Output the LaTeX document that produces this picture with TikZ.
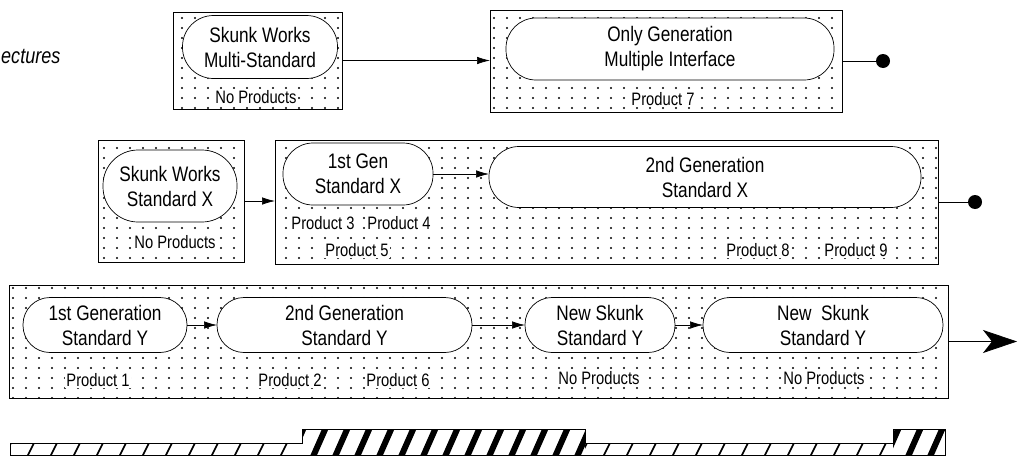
\documentclass[tikz,border=0pt]{standalone}
\usepackage{fontspec}
\setmainfont[FakeStretch=0.82]{Liberation Sans}
\usetikzlibrary{arrows.meta,patterns}
% sparse dot screen used as the background of every stage box
\pgfdeclarepatternformonly{sparsedots}{\pgfqpoint{-1.5pt}{-1.5pt}}{\pgfqpoint{1.5pt}{1.5pt}}{\pgfqpoint{13pt}{10pt}}{\pgfpathcircle{\pgfqpoint{0pt}{0pt}}{1.2pt}\pgfusepath{fill}}
\newcommand\pillfont{\fontsize{21}{25}\selectfont}
\newcommand\prodfont{\fontsize{18}{20}\selectfont}
\begin{document}
\begin{tikzpicture}[x=1pt,y=-1pt,
  stage/.style={draw, line width=0.8pt, pattern=sparsedots, inner sep=0pt, outer sep=0pt, anchor=north west},
  pill/.style={draw, line width=0.7pt, fill=white, rectangle, inner sep=0pt, outer sep=0pt, align=center, font=\pillfont},
  prod/.style={font=\prodfont, fill=white, inner sep=1.5pt},
  link/.style={line width=0.7pt, -{Latex[length=13pt,width=7.5pt]}},
  enddot/.style={circle, fill=black, minimum size=14pt, inner sep=0pt},
  plain/.style={line width=0.7pt}]
\useasboundingbox (0,0) rectangle (1018,458);

\node[font=\fontsize{22}{25}\selectfont\itshape, anchor=west, inner sep=0pt] (arch) at (1,56) {ectures};

% stage boxes
\node[stage, minimum width=169pt, minimum height=97pt]  (boxA) at (173,12) {};
\node[stage, minimum width=352pt, minimum height=102pt] (boxB) at (490,10) {};
\node[stage, minimum width=146pt, minimum height=122pt] (boxC) at (98,140) {};
\node[stage, minimum width=663pt, minimum height=124pt] (boxD) at (275,140) {};
\node[stage, minimum width=939pt, minimum height=113pt] (boxE) at (9,285) {};

% top row
\node[pill, minimum width=155pt, minimum height=63pt, rounded corners=31pt] (msA) at (260,47) {Skunk Works\\Multi-Standard};
\node[prod] (npA) at (256,97) {No Products};
\node[pill, minimum width=328pt, minimum height=62pt, rounded corners=30pt] (ogB) at (670,49) {Only Generation\\Multiple Interface};
\node[prod] (p7) at (663,99) {Product 7};
\node[enddot] (endB) at (883,61) {};
\draw[link] (boxA.east) -- (boxA.east -| boxB.west);
\draw[plain] (boxB.east) -- (endB);

% middle row
\node[pill, minimum width=134pt, minimum height=72pt, rounded corners=35pt] (swX) at (170,186) {Skunk Works\\Standard X};
\node[prod] (npC) at (175,242) {No Products};
\node[pill, minimum width=150pt, minimum height=62pt, rounded corners=30pt] (g1X) at (358,174) {1st Gen\\Standard X};
\node[prod] (p3) at (323,223) {Product 3};
\node[prod] (p4) at (399,223) {Product 4};
\node[prod] (p5) at (357,250) {Product 5};
\node[pill, minimum width=432pt, minimum height=61pt, rounded corners=30pt] (g2X) at (705,177) {2nd Generation\\Standard X};
\node[prod] (p8) at (758,250) {Product 8};
\node[prod] (p9) at (856,250) {Product 9};
\node[enddot] (endD) at (975,202) {};
\draw[link] (boxC.east) -- (boxC.east -| boxD.west);
\draw[link] (g1X.east) -- (g1X.east -| g2X.west);
\draw[plain] (boxD.east) -- (endD);

% bottom row
\node[pill, minimum width=164pt, minimum height=55pt, rounded corners=27pt] (g1Y) at (105,325) {1st Generation\\Standard Y};
\node[prod] (p1) at (98,380) {Product 1};
\node[pill, minimum width=255pt, minimum height=55pt, rounded corners=27pt] (g2Y) at (344.5,325) {2nd Generation\\Standard Y};
\node[prod] (p2) at (290,380) {Product 2};
\node[prod] (p6) at (398,380) {Product 6};
\node[pill, minimum width=150pt, minimum height=55pt, rounded corners=27pt] (ns1Y) at (600,325) {New Skunk\\Standard Y};
\node[prod] (npE1) at (599,378) {No Products};
\node[pill, minimum width=240pt, minimum height=55pt, rounded corners=27pt] (ns2Y) at (823,325) {New\ \ Skunk\\Standard Y};
\node[prod] (npE2) at (824,378) {No Products};
\coordinate (tipE) at (1017,341.5);
\draw[link] (g1Y) -- (g2Y);
\draw[link] (g2Y) -- (ns1Y);
\draw[link] (ns1Y) -- (ns2Y);
\draw[line width=0.8pt, -{Stealth[length=34pt,width=23pt,inset=9pt]}] (boxE.east) -- (tipE);

% hatched bar along the bottom
\begin{scope}
  \clip (10,443) rectangle (302,455);
  \foreach \x in {4,27,...,320} \draw[line width=1.6pt] (\x,457) -- (\x+8,441);
\end{scope}
\begin{scope}
  \clip (585,443) rectangle (893,455);
  \foreach \x in {580,603,...,900} \draw[line width=1.6pt] (\x,457) -- (\x+8,441);
\end{scope}
\begin{scope}
  \clip (302,429) rectangle (585,455);
  \foreach \x in {290,312,...,600} \draw[line width=6pt] (\x,459) -- (\x+15,425);
\end{scope}
\begin{scope}
  \clip (893,429) rectangle (945,455);
  \foreach \x in {885,907,...,960} \draw[line width=6pt] (\x,459) -- (\x+15,425);
\end{scope}
\draw[line width=0.8pt] (10,455) -- (10,443) -- (302,443) -- (302,429) -- (585,429) -- (585,443) -- (893,443) -- (893,429) -- (945,429) -- (945,455) -- cycle;
\end{tikzpicture}
\end{document}
